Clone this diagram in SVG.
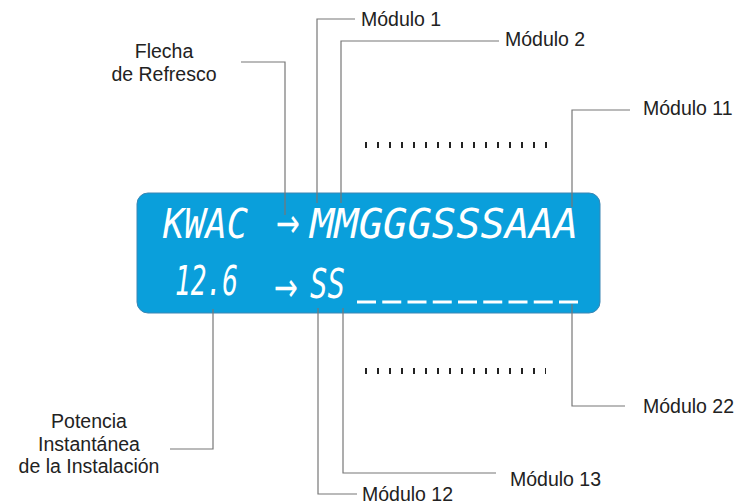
<svg xmlns="http://www.w3.org/2000/svg" width="738" height="504" viewBox="0 0 738 504">
<style>
.lbl{font-family:"Liberation Sans",Arial,sans-serif;font-size:19.5px;fill:#222}
.lcd{font-family:"DejaVu Sans Mono",monospace;font-style:italic;font-size:40px;fill:#fff}
.arr{font-family:"DejaVu Sans","Liberation Sans",sans-serif;font-size:40px;fill:#fff}
.ln{fill:none;stroke:#777;stroke-width:1.2}
.dots{stroke:#222;stroke-width:6;stroke-dasharray:2 10}
</style>
<rect fill="#fff" width="738" height="504"/>
<g id="display">
<rect x="137" y="193" width="463" height="120" rx="11" fill="#0a9fdb" stroke="#3a86b4" stroke-width="1"/>
<text class="lcd" x="163" y="238" textLength="85" lengthAdjust="spacingAndGlyphs">KWAC</text>
<text class="arr" x="276" y="237" textLength="24" lengthAdjust="spacingAndGlyphs">→</text>
<text class="lcd" x="310" y="238" textLength="268" lengthAdjust="spacingAndGlyphs">MMGGGSSSAAA</text>
<text class="lcd" x="175" y="295" textLength="63" lengthAdjust="spacingAndGlyphs">12.6</text>
<text class="arr" x="274" y="301" textLength="24" lengthAdjust="spacingAndGlyphs">→</text>
<text class="lcd" x="310" y="298" textLength="35" lengthAdjust="spacingAndGlyphs">SS</text>
<line x1="357" y1="302" x2="578" y2="302" stroke="#fff" stroke-width="3" stroke-dasharray="19 6.25"/>
</g>
<g id="dots">
<line class="dots" x1="365" y1="145" x2="548" y2="145"/>
<line class="dots" x1="365" y1="371" x2="546" y2="371"/>
</g>
<g id="connectors">
<polyline class="ln" points="241,62 285,62 285,215"/>
<polyline class="ln" points="355,19 317,19 317,203"/>
<polyline class="ln" points="499,41 341,41 341,203"/>
<polyline class="ln" points="630,110 572,110 572,207"/>
<polyline class="ln" points="170,449 213,449 213,309"/>
<polyline class="ln" points="357,494 318,494 318,308"/>
<polyline class="ln" points="496,473 343,473 343,308"/>
<polyline class="ln" points="625,406 572,406 572,304"/>
</g>
<g id="flecha"><text class="lbl" text-anchor="middle"><tspan x="164" y="58">Flecha</tspan><tspan x="164" y="81">de Refresco</tspan></text></g>
<g id="potencia"><text class="lbl" text-anchor="middle"><tspan x="89" y="428">Potencia</tspan><tspan x="89" y="451">Instantánea</tspan><tspan x="89" y="473">de la Instalación</tspan></text></g>
<g id="m1"><text class="lbl" x="361" y="26">Módulo 1</text></g>
<g id="m2"><text class="lbl" x="505" y="46">Módulo 2</text></g>
<g id="m11"><text class="lbl" x="643" y="115">Módulo 11</text></g>
<g id="m22"><text class="lbl" x="643" y="413">Módulo 22</text></g>
<g id="m13"><text class="lbl" x="510" y="486">Módulo 13</text></g>
<g id="m12"><text class="lbl" x="362" y="501">Módulo 12</text></g>
</svg>
